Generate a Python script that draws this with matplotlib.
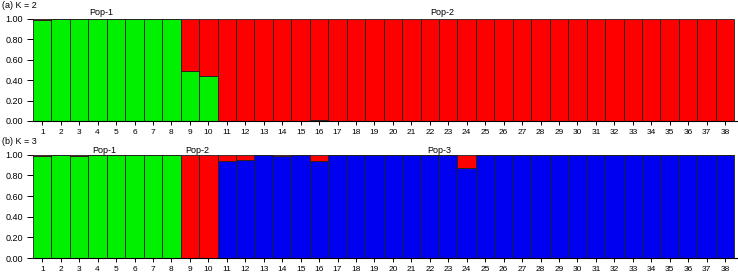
import matplotlib
matplotlib.use("Agg")
import matplotlib.pyplot as plt
import numpy as np

plt.rcParams['font.family'] = ['Liberation Sans', 'DejaVu Sans']

individuals = [str(i) for i in range(1, 39)]

# K = 2 membership (cluster green, cluster red)
k2_green = [0.99, 1, 1, 1, 1, 1, 1, 1, 0.49, 0.44] + [0]*5 + [0.01] + [0]*22
k2_red = [1 - g for g in k2_green]

# K = 3 membership (stack order: blue, green, red)
k3_blue = [0]*10 + [0.94, 0.95, 1, 0.99, 1, 0.94, 1, 1, 1, 1, 1, 1, 1, 0.87, 1, 0.995, 0.995] + [1]*11
k3_green = [0.99, 1, 0.99, 1, 1, 1, 1, 1] + [0]*30
k3_red = [round(1 - b - g, 3) for b, g in zip(k3_blue, k3_green)]

pop_labels_k2 = [("Pop-1", 4.2), ("Pop-2", 22.7)]
pop_labels_k3 = [("Pop-1", 4.35), ("Pop-2", 9.4), ("Pop-3", 22.5)]

GREEN = "#00f000"
RED = "#ff0000"
BLUE = "#0000f0"

fig = plt.figure(figsize=(7.38, 2.78), dpi=100)
ax1 = fig.add_axes([33/738, 1-121/278, 1-33/738, (121-19)/278])
ax2 = fig.add_axes([33/738, 1-258/278, 1-33/738, (258-154.7)/278])

x = np.arange(1, 39)
ec = "#202020"
lw = 0.6

def style(ax):
    ax.set_xlim(0.5, 38.7)
    ax.set_ylim(0, 1)
    for s in ["top", "right", "left"]:
        ax.spines[s].set_visible(False)
    ax.spines["bottom"].set_linewidth(0.8)
    ax.set_xticks(x)
    ax.set_xticklabels(individuals, fontsize=6)
    ax.set_yticks([0, 0.2, 0.4, 0.6, 0.8, 1.0])
    ax.set_yticklabels(["0.00", "0.20", "0.40", "0.60", "0.80", "1.00"], fontsize=6.5)
    ax.tick_params(axis="x", length=3, width=0.7, pad=3)
    ax.tick_params(axis="y", length=4, width=0.7, pad=3)

ax1.bar(x, k2_green, width=1, color=GREEN, edgecolor=ec, linewidth=lw)
ax1.bar(x, k2_red, width=1, bottom=k2_green, color=RED, edgecolor=ec, linewidth=lw)
style(ax1)
for lab, px in pop_labels_k2:
    ax1.text(px, 1.06, lab, ha="center", va="center", fontsize=6.5, clip_on=False)
fig.text(2/738, 1-5/278, "(a) K = 2", ha="left", va="center", fontsize=6.5)

b = np.array(k3_blue)
g = np.array(k3_green)
ax2.bar(x, b, width=1, color=BLUE, edgecolor=ec, linewidth=lw)
ax2.bar(x, g, width=1, bottom=b, color=GREEN, edgecolor=ec, linewidth=lw)
ax2.bar(x, k3_red, width=1, bottom=b + g, color=RED, edgecolor=ec, linewidth=lw)
style(ax2)
for lab, px in pop_labels_k3:
    ax2.text(px, 1.045, lab, ha="center", va="center", fontsize=6.5, clip_on=False)
fig.text(2/738, 1-142/278, "(b) K = 3", ha="left", va="center", fontsize=6.5)

fig.savefig("out.png", dpi=100)
